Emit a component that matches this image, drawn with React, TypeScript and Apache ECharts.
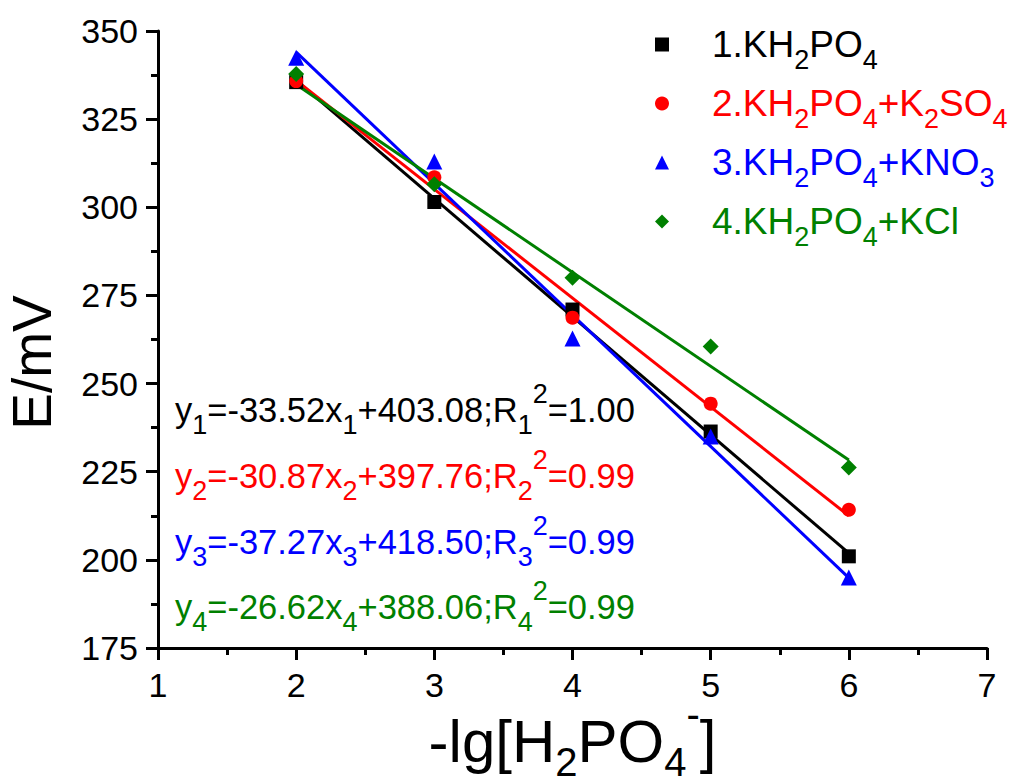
import React, { useEffect, useRef } from "react";
import * as echarts from "echarts";

const FONT = "'Liberation Sans', Arial, Helvetica, sans-serif";

const xValues = [2, 3, 4, 5, 6];
const seriesNames = ["1.KH2PO4", "2.KH2PO4+K2SO4", "3.KH2PO4+KNO3", "4.KH2PO4+KCl"];
const seriesColors = ["#000000", "#ff0000", "#0000ff", "#008000"];
const seriesSymbols = ["rect", "circle", "triangle", "diamond"];
const symbolSizes = [14, 14, 16, 16];

const s1 = [335.5, 301.5, 271.0, 236.4, 201.0];
const s2 = [335.8, 308.5, 268.7, 244.3, 214.2];
const s3 = [342.4, 313.0, 262.8, 235.0, 195.0];
const s4 = [337.8, 306.5, 280.0, 260.5, 226.2];

const fitX = [2, 6];
const fit1 = [336.0, 201.9];
const fit2 = [336.0, 212.5];
const fit3 = [344.0, 194.9];
const fit4 = [334.8, 228.3];

const eqSlopes = ["-33.52", "-30.87", "-37.27", "-26.62"];
const eqIntercepts = ["403.08", "397.76", "418.50", "388.06"];
const eqR2 = ["1.00", "0.99", "0.99", "0.99"];
const eqRowY = [410, 476, 542, 607];

const scatterData = [s1, s2, s3, s4];
const fitData = [fit1, fit2, fit3, fit4];

// digits directly after a letter become subscripts
function chemRich(name: string): string {
  let out = "";
  let cur = "";
  let mode = "m";
  for (let i = 0; i < name.length; i++) {
    const ch = name[i];
    const isDigit = ch >= "0" && ch <= "9";
    const prev = i > 0 ? name[i - 1] : "";
    const afterLetter = /[A-Za-z]/.test(prev) || (mode === "s" && isDigit);
    const m = isDigit && afterLetter ? "s" : "m";
    if (m !== mode && cur) {
      out += `{${mode}|${cur}}`;
      cur = "";
    }
    mode = m;
    cur += ch;
  }
  if (cur) out += `{${mode}|${cur}}`;
  return out;
}

function eqText(i: number): string {
  const k = String(i + 1);
  return (
    `{m|y}{s|${k}}{m|=${eqSlopes[i]}x}{s|${k}}{m|+${eqIntercepts[i]};R}{s|${k}}{p|2}{m|=${eqR2[i]}}`
  );
}

export default function App() {
  const ref = useRef<HTMLDivElement>(null);

  useEffect(() => {
    if (!ref.current) return;
    const chart = echarts.init(ref.current, undefined, { renderer: "svg" });

    const series: any[] = [];
    fitData.forEach((f, i) => {
      series.push({
        name: "fit" + (i + 1),
        type: "line",
        data: fitX.map((x, j) => [x, f[j]]),
        showSymbol: false,
        symbol: "none",
        lineStyle: { color: seriesColors[i], width: 3 },
        itemStyle: { color: seriesColors[i] },
        z: 2,
      });
    });
    scatterData.forEach((d, i) => {
      series.push({
        name: seriesNames[i],
        type: "scatter",
        data: xValues.map((x, j) => [x, d[j]]),
        symbol: seriesSymbols[i],
        symbolSize: symbolSizes[i],
        itemStyle: { color: seriesColors[i], opacity: 1 },
        z: 3,
      });
    });

    const graphics: any[] = eqRowY.map((y, i) => ({
      type: "text",
      x: 175,
      y,
      z: 10,
      style: {
        text: eqText(i),
        fill: seriesColors[i],
        align: "left",
        verticalAlign: "middle",
        fontFamily: FONT,
        fontSize: 34.5,
        rich: {
          m: { fontSize: 34.5, fontFamily: FONT, fill: seriesColors[i] },
          s: { fontSize: 27, fontFamily: FONT, fill: seriesColors[i], padding: [30, 0, 0, 0] },
          p: { fontSize: 27, fontFamily: FONT, fill: seriesColors[i], padding: [0, 0, 32, 0] },
        },
      },
    }));

    const axisCommon = {
      axisLine: { show: true, lineStyle: { color: "#000", width: 3 } },
      axisTick: { show: true, inside: false, length: 12, lineStyle: { color: "#000", width: 3 } },
      minorTick: { show: true, splitNumber: 2, length: 7, lineStyle: { color: "#000", width: 3 } },
      splitLine: { show: false },
      minorSplitLine: { show: false },
    };

    chart.setOption({
      animation: false,
      backgroundColor: "#ffffff",
      grid: {
        left: 158,
        right: 38,
        top: 31,
        bottom: 132,
        containLabel: false,
        outerBoundsMode: "none",
      },
      xAxis: {
        type: "value",
        min: 1,
        max: 7,
        interval: 1,
        ...axisCommon,
        axisLabel: { color: "#000", fontSize: 34, fontFamily: FONT, margin: 20 },
        name: "{m|-lg[H}{s|2}{m|PO}{s|4}{p|-}{m|]}",
        nameLocation: "middle",
        nameGap: 46,
        nameMoveOverlap: false,
        nameTextStyle: {
          color: "#000",
          fontFamily: FONT,
          fontSize: 60,
          rich: {
            m: { fontSize: 60, fontFamily: FONT, color: "#000" },
            s: { fontSize: 40, fontFamily: FONT, color: "#000", padding: [42, 0, 0, 0] },
            p: { fontSize: 40, fontFamily: FONT, color: "#000", padding: [0, 0, 54, 0] },
          },
        },
      },
      yAxis: {
        type: "value",
        min: 175,
        max: 350,
        interval: 25,
        ...axisCommon,
        axisLabel: { color: "#000", fontSize: 34, fontFamily: FONT, margin: 20 },
        name: "E/mV",
        nameLocation: "middle",
        nameRotate: 90,
        nameGap: 99,
        nameMoveOverlap: false,
        nameTextStyle: {
          color: "#000",
          fontFamily: FONT,
          fontSize: 55,
          padding: [0, 46, 0, 0],
        },
      },
      legend: {
        orient: "vertical",
        left: 655,
        top: 26,
        padding: 0,
        itemWidth: 14,
        itemHeight: 14,
        itemGap: 12,
        selectedMode: false,
        formatter: (name: string) => chemRich(name),
        textStyle: {
          fontFamily: FONT,
          fontSize: 37,
          padding: [0, 0, 0, 38],
          rich: {
            m: { fontSize: 37, fontFamily: FONT },
            s: { fontSize: 27, fontFamily: FONT, padding: [30, 0, 0, 0] },
          },
        },
        data: seriesNames.map((n, i) => ({
          name: n,
          icon: seriesSymbols[i],
          itemStyle: { color: seriesColors[i] },
          textStyle: { color: seriesColors[i] },
        })),
      },
      graphic: graphics,
      series,
    });

    return () => {
      chart.dispose();
    };
  }, []);

  return (
    <div
      ref={ref}
      style={{ position: "fixed", left: 0, top: 0, width: 1025, height: 780, background: "#fff" }}
    />
  );
}
